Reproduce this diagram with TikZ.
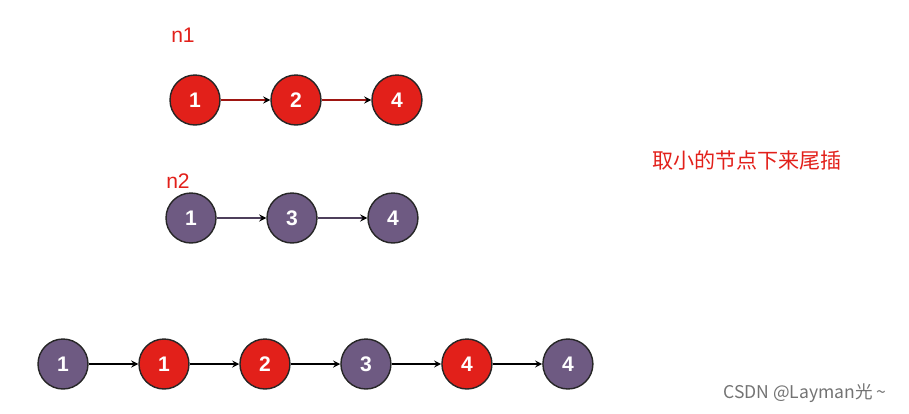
\documentclass[tikz,border=0pt]{standalone}
\usepackage{fontspec}
\setmainfont{Liberation Sans}
\newfontfamily\cjk{Noto Sans CJK SC}
\usetikzlibrary{arrows,positioning}
\definecolor{redn}{HTML}{E2201A}
\definecolor{purn}{HTML}{6E5A82}
\tikzset{
  lnode/.style={circle,draw=black!85,thick,minimum size=1cm,inner sep=0pt,text=white,font=\bfseries\large},
  rn/.style={lnode,fill=redn},
  pn/.style={lnode,fill=purn},
}
\begin{document}
\begin{tikzpicture}[x=0.02cm,y=-0.02cm,node distance=2.02cm,on grid,>=stealth,thick]
        \useasboundingbox (0,0) rectangle (909,413);
        % first list
        \node[rn] (a1) at (195,100) {1};
        \node[rn] (a2) [right=of a1] {2};
        \node[rn] (a4) [right=of a2] {4};
        \node[text=redn,font=\large] (l1) at (183,35) {n1};
        % second list
        \node[pn] (b1) at (191,218) {1};
        \node[pn] (b3) [right=of b1] {3};
        \node[pn] (b4) [right=of b3] {4};
        \node[text=redn,font=\large] (l2) at (178,181) {n2};
        % merged list
        \node[pn] (c1) at (63,364) {1};
        \node[rn] (c2) [right=of c1] {1};
        \node[rn] (c3) [right=of c2] {2};
        \node[pn] (c4) [right=of c3] {3};
        \node[rn] (c5) [right=of c4] {4};
        \node[pn] (c6) [right=of c5] {4};
        \node[text=redn,font=\cjk\large] (note) at (747,160) {取小的节点下来尾插};
        \node[text=black!55,font=\cjk\normalsize] (mark) at (805,393) {CSDN @Layman光 \textasciitilde};
        \path[->,draw=redn!70!black]
             (a1) edge (a2)
             (a2) edge (a4);
        \path[->,draw=purn!70!black]
             (b1) edge (b3)
             (b3) edge (b4);
        \path[->,draw=black]
             (c1) edge (c2)
             (c2) edge (c3)
             (c3) edge (c4)
             (c4) edge (c5)
             (c5) edge (c6);
    \end{tikzpicture}
\end{document}
